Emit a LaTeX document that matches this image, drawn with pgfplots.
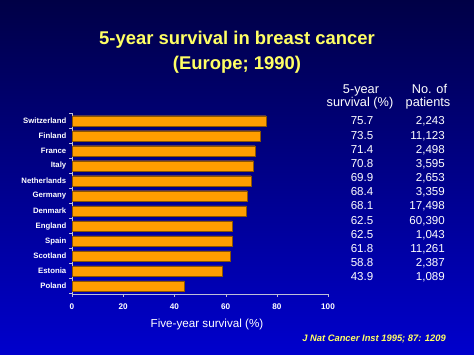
\documentclass[border=0pt]{standalone}
\usepackage{pgfplots}
\pgfplotsset{compat=1.18}
\usepackage{fontspec}
\setmainfont{Liberation Sans}
\definecolor{bgtop}{RGB}{0,0,70}
\definecolor{bgbot}{RGB}{0,0,205}
\definecolor{baror}{RGB}{255,157,0}
\definecolor{ttlyel}{RGB}{255,255,100}
\definecolor{axgray}{RGB}{190,190,215}
\begin{document}
\begin{tikzpicture}
\shade[top color=bgtop, bottom color=bgbot] (0bp,0bp) rectangle (474bp,355bp);
% title
\node[text=ttlyel, anchor=base, inner sep=0pt, font=\bfseries\fontsize{18.5}{22}\selectfont] at (237bp,310.3bp) {5-year survival in breast cancer};
\node[text=ttlyel, anchor=base, inner sep=0pt, font=\bfseries\fontsize{18.5}{22}\selectfont] at (237bp,285.5bp) {(Europe; 1990)};
\begin{axis}[
  at={(72bp,61bp)}, anchor=south west,
  width=256bp, height=181bp, scale only axis,
  xmin=0, xmax=100, ymin=-0.53, ymax=11.53,
  y dir=reverse,
  xbar, bar width=10.5bp,
  axis line style={axgray, line width=0.5pt},
  axis x line*=bottom, axis y line*=left,
  xtick={0,20,40,60,80,100},
  ytick={0,...,11},
  yticklabels={Switzerland,Finland,France,Italy,Netherlands,Germany,Denmark,England,Spain,Scotland,Estonia,Poland},
  major y tick style={draw=none},
  minor ytick={-0.5,0.5,...,11.5},
  minor tick length=2.5bp,
  minor tick style={axgray},
  major x tick style={axgray},
  tick align=outside, major tick length=2.5bp,
  /pgf/number format/assume math mode=true,
  ticklabel style={text=white, font=\bfseries\fontsize{8.2}{9}\selectfont},
  xticklabel style={inner sep=0pt, yshift=-7bp},
  yticklabel style={inner sep=0pt, xshift=-3bp, font=\bfseries\fontsize{7.8}{9}\selectfont},
]
\addplot[fill=baror, draw=black!45!baror, line width=0.4pt] coordinates {
(75.7,0) (73.5,1) (71.4,2) (70.8,3) (69.9,4) (68.4,5) (68.1,6) (62.5,7) (62.5,8) (61.8,9) (58.8,10) (43.9,11)};
\end{axis}
\node[text=white, anchor=base, inner sep=0pt, font=\fontsize{11.7}{14}\selectfont] at (207bp,28bp) {Five-year survival (\%)};
% table headers
\node[text=white, anchor=base, inner sep=0pt, font=\fontsize{12.8}{14}\selectfont] at (361bp,261.4bp) {5-year};
\node[text=white, anchor=base, inner sep=0pt, font=\fontsize{12.8}{14}\selectfont] at (360bp,248.7bp) {survival (\%)};
\node[text=white, anchor=base, inner sep=0pt, font=\fontsize{12.8}{14}\selectfont] at (429.5bp,261.4bp) {No. of};
\node[text=white, anchor=base, inner sep=0pt, font=\fontsize{12.8}{14}\selectfont] at (428bp,248.7bp) {patients};
\foreach \v/\n [count=\i from 0] in {75.7/{2,243},73.5/{11,123},71.4/{2,498},70.8/{3,595},69.9/{2,653},68.4/{3,359},68.1/{17,498},62.5/{60,390},62.5/{1,043},61.8/{11,261},58.8/{2,387},43.9/{1,089}} {
  \node[text=white, anchor=base, inner sep=0pt, font=\fontsize{11.6}{14}\selectfont] at (362bp,{(230.15-14.18*\i)*1bp}) {\v};
  \node[text=white, anchor=base east, inner sep=0pt, font=\fontsize{11.6}{14}\selectfont] at (445bp,{(230.15-14.18*\i)*1bp}) {\n};
}
\node[text=ttlyel, anchor=base east, inner sep=0pt, font=\bfseries\itshape\fontsize{9.4}{11}\selectfont] at (446bp,13.6bp) {J Nat Cancer Inst 1995; 87: 1209};
\end{tikzpicture}
\end{document}
